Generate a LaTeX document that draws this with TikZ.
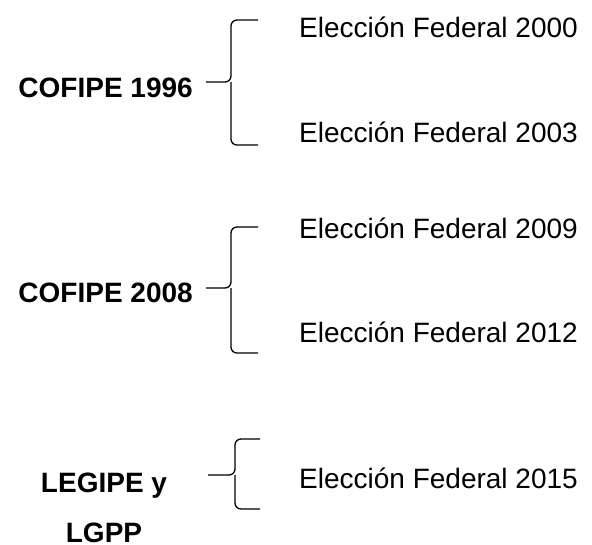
\documentclass[tikz,border=0pt]{standalone}
\usepackage{fontspec}
\setmainfont{Liberation Sans}
\newcommand{\grande}{\fontsize{28}{50}\selectfont}
\tikzset{
	eleccion/.style={anchor=base west,inner xsep=0pt,font=\grande},
	ley/.style={inner xsep=0pt,font=\grande\bfseries},
	llave/.style={line width=1.3pt,rounded corners=6pt}
}
\begin{document}
\begin{tikzpicture}[x=1pt,y=-1pt]
		\useasboundingbox (0,0) rectangle (592,544);
		% leyes
		\node[ley,anchor=base east] (cofipeA) at (193,97.3) {COFIPE 1996};
		\node[ley,anchor=base east] (cofipeB) at (193,302) {COFIPE 2008};
		\node[ley,anchor=base,align=center,inner sep=0pt] (legipe) at (104,542) {LEGIPE y\\LGPP};
		% elecciones
		\node[eleccion] (e2000) at (299,37.3) {Elección Federal 2000};
		\node[eleccion] (e2003) at (299,142.3) {Elección Federal 2003};
		\node[eleccion] (e2009) at (299,238.3) {Elección Federal 2009};
		\node[eleccion] (e2012) at (299,342.3) {Elección Federal 2012};
		\node[eleccion] (e2015) at (299,488.3) {Elección Federal 2015};
		% llaves
		\coordinate (arribaA) at (258,20);   \coordinate (abajoA) at (258,145);
		\coordinate (ejeA) at (231,82);      \coordinate (colaA) at (206,82);
		\coordinate (arribaB) at (258,227);  \coordinate (abajoB) at (258,353);
		\coordinate (ejeB) at (231,288);     \coordinate (colaB) at (206,288);
		\coordinate (arribaC) at (260,439);  \coordinate (abajoC) at (260,509);
		\coordinate (ejeC) at (235,475);     \coordinate (colaC) at (208,475);
		\foreach \g in {A,B,C} {
			\draw[llave] (arriba\g) -| (eje\g) -- (cola\g);
			\draw[llave] (abajo\g) -| (eje\g);
		}
	\end{tikzpicture}
\end{document}
